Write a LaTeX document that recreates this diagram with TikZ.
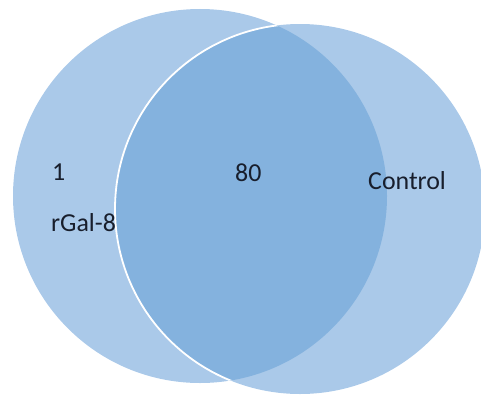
\documentclass[tikz,border=0pt]{standalone}
\usepackage{fontspec}
\setmainfont{Carlito}
\definecolor{vlight}{RGB}{170,201,233}
\definecolor{vdark}{RGB}{132,178,222}
\definecolor{vtxt}{RGB}{24,30,44}
\begin{document}
\begin{tikzpicture}[x=1bp,y=1bp,
  lbl/.style={anchor=base west, inner sep=0pt, font=\fontsize{26}{30}\selectfont, text=vtxt}]
\useasboundingbox (0,0) rectangle (481,396);
\clip (0,0) rectangle (481,396);
\fill[vlight] (200,200) circle (187);
\fill[vlight] (300,187) circle (185);
\begin{scope}
  \clip (200,200) circle (187);
  \fill[vdark] (300,187) circle (185);
  \draw[white, line width=1.8bp] (300,187) circle (185);
\end{scope}
\node[lbl] (one) at (52,216) {1};
\node[lbl] (eighty) at (235,215) {80};
\node[lbl] (control) at (368,207) {Control};
\node[lbl] (rgal) at (51,165) {rGal-8};
\end{tikzpicture}
\end{document}
